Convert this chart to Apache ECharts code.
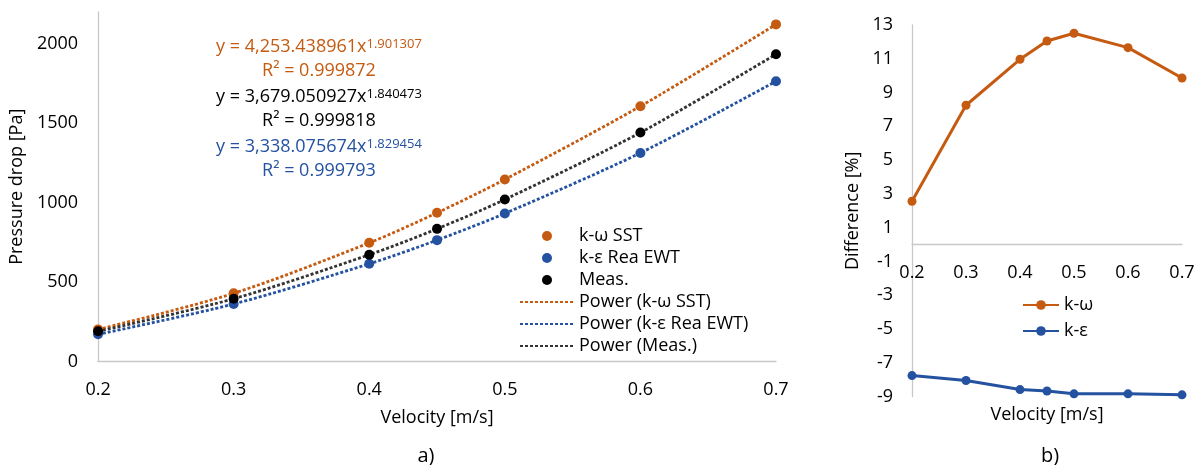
<!DOCTYPE html>
<html>
<head>
<meta charset="utf-8">
<script src="https://cdn.jsdelivr.net/npm/echarts@6/dist/echarts.min.js"></script>
<style>
  html, body { margin: 0; padding: 0; background: #fff; }
  #chart { width: 1198px; height: 465px; }
</style>
</head>
<body>
<div id="chart"></div>
<script>
// velocity values [m/s]
var velocity = [0.2, 0.3, 0.4, 0.45, 0.5, 0.6, 0.7];
// pressure drop [Pa]
var kwSST = [202, 429, 747, 936, 1146, 1607, 2122];
var keRea = [171, 362, 615, 764, 932, 1313, 1764];
var meas = [190, 395, 672, 835, 1020, 1441, 1934];
// difference to measurement [%]
var diffKw = [2.57, 8.25, 10.97, 12.05, 12.51, 11.66, 9.86];
var diffKe = [-7.75, -8.04, -8.58, -8.66, -8.83, -8.83, -8.89];
// tick labels
var pressureTicks = [0, 500, 1000, 1500, 2000];
var diffTicks = [13, 11, 9, 7, 5, 3, 1, -1, -3, -5, -7, -9];
// trendline equations
var eqKw = ['y = 4,253.438961x', '1.901307', 'R² = 0.999872'];
var eqMeas = ['y = 3,679.050927x', '1.840473', 'R² = 0.999818'];
var eqKe = ['y = 3,338.075674x', '1.829454', 'R² = 0.999793'];

var ORANGE = '#C55A11';
var BLUE = '#2452A0';
var BLACK = '#000000';
var FONT = 'Open Sans';

function pairs(xs, ys) {
    var out = [];
    for (var i = 0; i < xs.length; i++) out.push([xs[i], ys[i]]);
    return out;
}

function eqText(eq, color, y) {
    return [{
        type: 'text', x: 319, y: y,
        style: {
            text: '{m|' + eq[0] + '}{s|' + eq[1] + '}',
            align: 'center', verticalAlign: 'middle',
            rich: {
                m: { fontFamily: FONT, fontSize: 18, fill: color, color: color },
                s: { fontFamily: FONT, fontSize: 13, fill: color, color: color, verticalAlign: 'top', padding: [0, 0, 3, 0] }
            }
        }
    }, {
        type: 'text', x: 319, y: y + 24,
        style: { text: eq[2], fontFamily: FONT, fontSize: 18, fill: color, align: 'center', verticalAlign: 'middle' }
    }];
}

var myChart = echarts.init(document.getElementById('chart'));

var axisLineStyle = { lineStyle: { color: '#C8C8C8', width: 1.3 } };
var labelStyle = { color: BLACK, fontFamily: FONT, fontSize: 18 };

var trendLine = function (name, data, color) {
    return {
        name: name, type: 'line', xAxisIndex: 0, yAxisIndex: 0,
        data: pairs(velocity, data), symbol: 'none', smooth: 0.3,
        lineStyle: { color: color, width: 2.8, type: [3, 2] },
        itemStyle: { color: color }, z: 2
    };
};
var points = function (name, data, color) {
    return {
        name: name, type: 'scatter', xAxisIndex: 0, yAxisIndex: 0,
        data: pairs(velocity, data), symbol: 'circle', symbolSize: 10,
        itemStyle: { color: color, opacity: 1 }, z: 3
    };
};
var noDot = { opacity: 0 };

var option = {
    animation: false,
    textStyle: { fontFamily: FONT },
    grid: [
        { left: 96, right: 422, top: 12, bottom: 103.5 },
        { left: 912, right: 16, top: 25, bottom: 68.3 }
    ],
    xAxis: [{
        gridIndex: 0, type: 'value', min: 0.2, max: 0.7, interval: 0.1,
        name: 'Velocity [m/s]', nameLocation: 'middle', nameGap: 47,
        nameTextStyle: labelStyle,
        axisLine: axisLineStyle, axisTick: { show: false }, splitLine: { show: false },
        axisLabel: Object.assign({ margin: 19, formatter: function (v) { return v.toFixed(1); } }, labelStyle)
    }, {
        gridIndex: 1, type: 'value', min: 0.2, max: 0.7, interval: 0.1,
        position: 'bottom', offset: -152,
        axisLine: Object.assign({ onZero: false }, axisLineStyle), axisTick: { show: false }, splitLine: { show: false },
        axisLabel: Object.assign({ margin: 19, formatter: function (v) { return v.toFixed(1); } }, labelStyle)
    }],
    yAxis: [{
        gridIndex: 0, type: 'value', min: 0, max: 2200, interval: 500,
        name: 'Pressure drop [Pa]', nameLocation: 'middle', nameGap: 69,
        nameTextStyle: labelStyle,
        axisLine: Object.assign({ show: true }, axisLineStyle), axisTick: { show: false }, splitLine: { show: false },
        axisLabel: Object.assign({ margin: 20, formatter: function (v) {
            return pressureTicks.indexOf(v) >= 0 ? String(v) : '';
        } }, labelStyle)
    }, {
        gridIndex: 1, type: 'value', min: -9, max: 13, interval: 1,
        name: 'Difference [%]', nameLocation: 'middle', nameGap: 50,
        nameTextStyle: labelStyle,
        axisLine: Object.assign({ show: true, onZero: false }, axisLineStyle), axisTick: { show: false }, splitLine: { show: false },
        axisLabel: Object.assign({ margin: 19, formatter: function (v) {
            return diffTicks.indexOf(v) >= 0 ? String(v) : '';
        } }, labelStyle)
    }],
    legend: [{
        orient: 'vertical', left: 514, top: 222,
        itemWidth: 54, itemHeight: 10, itemGap: 4,
        textStyle: { color: BLACK, fontFamily: FONT, fontSize: 18 },
        data: ['k-ω SST', 'k-ε Rea EWT', 'Meas.',
            { name: 'Power (k-ω SST)', itemStyle: noDot },
            { name: 'Power (k-ε Rea EWT)', itemStyle: noDot },
            { name: 'Power (Meas.)', itemStyle: noDot }]
    }, {
        orient: 'vertical', left: 1017, top: 291,
        itemWidth: 36, itemHeight: 12, itemGap: 8,
        textStyle: { color: BLACK, fontFamily: FONT, fontSize: 18 },
        data: ['k-ω', 'k-ε']
    }],
    series: [
        trendLine('Power (k-ω SST)', kwSST, ORANGE),
        trendLine('Power (k-ε Rea EWT)', keRea, BLUE),
        trendLine('Power (Meas.)', meas, '#333333'),
        points('k-ω SST', kwSST, ORANGE),
        points('k-ε Rea EWT', keRea, BLUE),
        points('Meas.', meas, BLACK),
        {
            name: 'k-ω', type: 'line', xAxisIndex: 1, yAxisIndex: 1,
            data: pairs(velocity, diffKw), symbol: 'circle', symbolSize: 9,
            lineStyle: { color: ORANGE, width: 3 }, itemStyle: { color: ORANGE }
        },
        {
            name: 'k-ε', type: 'line', xAxisIndex: 1, yAxisIndex: 1,
            data: pairs(velocity, diffKe), symbol: 'circle', symbolSize: 9,
            lineStyle: { color: BLUE, width: 3 }, itemStyle: { color: BLUE }
        }
    ],
    graphic: [].concat(
        eqText(eqKw, ORANGE, 47),
        eqText(eqMeas, BLACK, 97),
        eqText(eqKe, BLUE, 147),
        [{
            type: 'text', x: 1047, y: 415,
            style: { text: 'Velocity [m/s]', fontFamily: FONT, fontSize: 18, fill: BLACK, align: 'center', verticalAlign: 'middle' }
        }, {
            type: 'text', x: 426, y: 456,
            style: { text: 'a)', fontFamily: FONT, fontSize: 20, fill: BLACK, align: 'center', verticalAlign: 'middle' }
        }, {
            type: 'text', x: 1050, y: 456,
            style: { text: 'b)', fontFamily: FONT, fontSize: 20, fill: BLACK, align: 'center', verticalAlign: 'middle' }
        }]
    )
};
myChart.setOption(option);
</script>
</body>
</html>
